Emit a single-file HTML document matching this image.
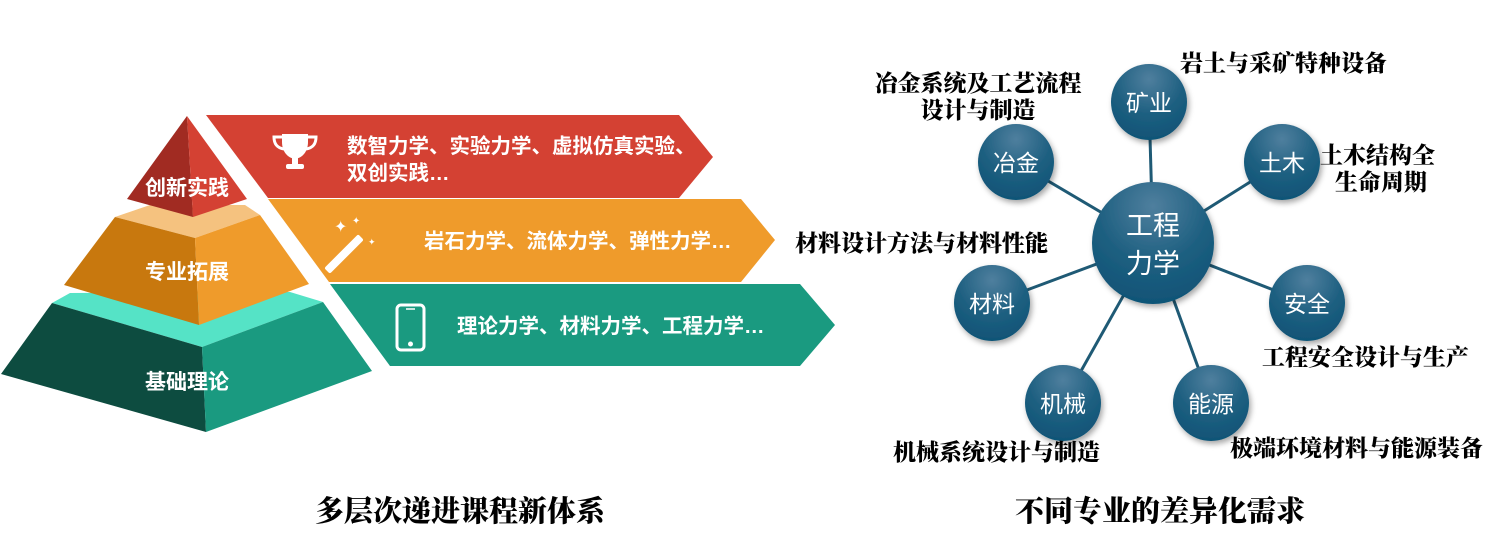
<!DOCTYPE html>
<html><head><meta charset="utf-8"><style>
html,body{margin:0;padding:0;background:#fff;width:1504px;height:547px;overflow:hidden}
svg{display:block}
.w{font-family:"Liberation Sans","Noto Sans CJK SC",sans-serif;font-weight:bold;fill:#fff}
.b{font-family:"Liberation Serif","Noto Serif CJK SC",serif;font-weight:900;fill:#000}
.c{font-family:"Liberation Sans","Noto Sans CJK SC",sans-serif;fill:#fff}
</style></head><body>
<svg width="1504" height="547" viewBox="0 0 1504 547" xmlns="http://www.w3.org/2000/svg">
<defs>
<radialGradient id="g" cx="50%" cy="20%" r="85%">
<stop offset="0" stop-color="#4f7f9e"/><stop offset="0.55" stop-color="#1d5f80"/><stop offset="1" stop-color="#0e5275"/>
</radialGradient>
<filter id="sh" x="-30%" y="-30%" width="160%" height="160%"><feDropShadow dx="2" dy="3" stdDeviation="3" flood-color="#000" flood-opacity="0.35"/></filter>
</defs>
<polygon points="206,115 679,115 713,157 679,198 268,198" fill="#d44133"/>
<polygon points="268,199 741,199 775,240 741,282 329,282" fill="#ef9b2b"/>
<polygon points="330,284 800,284 835,325 800,366 390,366" fill="#1a9a80"/>
<polygon points="52,303 70,293 290,292 323,302 202,347" fill="#55e3c6"/>
<polygon points="52,303 202,347 206,432 1,374" fill="#0d4c40"/>
<polygon points="202,347 323,302 372,371 206,432" fill="#1a9a80"/>
<polygon points="115,217 150,205 245,205 260,215 195,238" fill="#f5c27f"/>
<polygon points="115,217 195,238 199,325 64,285" fill="#c8780e"/>
<polygon points="195,238 260,215 309,284 199,325" fill="#ef9b2b"/>
<polygon points="187,116 127,199 193,217" fill="#a12b22"/>
<polygon points="187,116 193,217 247,199" fill="#d44133"/>
<text class="w" x="187" y="195" font-size="21" text-anchor="middle">创新实践</text>
<text class="w" x="187" y="279" font-size="21" text-anchor="middle">专业拓展</text>
<text class="w" x="187" y="389" font-size="21" text-anchor="middle">基础理论</text>
<g fill="#fff">
<path d="M282,134 h26 v8 c0,10 -6,16 -13,17 c-7,-1 -13,-7 -13,-17z"/>
<path d="M282,137 h-8 c0,8 4,11 10,12" fill="none" stroke="#fff" stroke-width="3"/>
<path d="M308,137 h8 c0,8 -4,11 -10,12" fill="none" stroke="#fff" stroke-width="3"/>
<rect x="292" y="158" width="6" height="6"/><rect x="286" y="164" width="18" height="5" rx="2"/>
</g>
<g fill="#fff"><rect x="340" y="230" width="8" height="48" rx="2" transform="rotate(45 344 254)"/>
<text x="334" y="232" font-size="16" fill="#fff">✦</text><text x="352" y="224" font-size="10" fill="#fff">✦</text><text x="368" y="245" font-size="9" fill="#fff">✦</text></g>
<rect x="397" y="305" width="27" height="45" rx="4" fill="none" stroke="#fff" stroke-width="3"/>
<circle cx="410.5" cy="344" r="2.5" fill="#fff"/><line x1="406" y1="309" x2="415" y2="309" stroke="#fff" stroke-width="1.5"/>
<text class="w" x="347" y="153" font-size="20.5">数智力学、实验力学、虚拟仿真实验、</text>
<text class="w" x="347" y="180" font-size="20.5">双创实践…</text>
<text class="w" x="424" y="248" font-size="20.5">岩石力学、流体力学、弹性力学…</text>
<text class="w" x="457" y="333" font-size="20.5">理论力学、材料力学、工程力学…</text>
<text class="b" x="460" y="521" font-size="29" text-anchor="middle">多层次递进课程新体系</text>
<g stroke="#1f5a75" stroke-width="3">
<line x1="1153" y1="243" x2="1149" y2="102"/><line x1="1153" y1="243" x2="1282" y2="162"/>
<line x1="1153" y1="243" x2="1016" y2="162"/><line x1="1153" y1="243" x2="992" y2="303"/>
<line x1="1153" y1="243" x2="1307" y2="303"/><line x1="1153" y1="243" x2="1063" y2="403"/>
<line x1="1153" y1="243" x2="1211" y2="403"/>
</g>
<g fill="url(#g)" filter="url(#sh)">
<circle cx="1153" cy="243" r="61"/><circle cx="1149" cy="102" r="38"/><circle cx="1282" cy="162" r="38"/>
<circle cx="1016" cy="162" r="38"/><circle cx="992" cy="303" r="38"/><circle cx="1307" cy="303" r="38"/>
<circle cx="1063" cy="403" r="38"/><circle cx="1211" cy="403" r="38"/>
</g>
<text class="c" x="1153" y="235" font-size="27" text-anchor="middle">工程</text>
<text class="c" x="1153" y="273" font-size="27" text-anchor="middle">力学</text>
<text class="c" x="1149" y="111" font-size="23" text-anchor="middle">矿业</text>
<text class="c" x="1282" y="171" font-size="23" text-anchor="middle">土木</text>
<text class="c" x="1016" y="171" font-size="23" text-anchor="middle">冶金</text>
<text class="c" x="992" y="312" font-size="23" text-anchor="middle">材料</text>
<text class="c" x="1307" y="312" font-size="23" text-anchor="middle">安全</text>
<text class="c" x="1063" y="412" font-size="23" text-anchor="middle">机械</text>
<text class="c" x="1211" y="412" font-size="23" text-anchor="middle">能源</text>
<text class="b" x="1180" y="71" font-size="23">岩土与采矿特种设备</text>
<text class="b" x="978" y="91" font-size="23" text-anchor="middle">冶金系统及工艺流程</text>
<text class="b" x="978" y="118" font-size="23" text-anchor="middle">设计与制造</text>
<text class="b" x="1320" y="163" font-size="23">土木结构全</text>
<text class="b" x="1335" y="190" font-size="23">生命周期</text>
<text class="b" x="795" y="251" font-size="23">材料设计方法与材料性能</text>
<text class="b" x="1262" y="365" font-size="23">工程安全设计与生产</text>
<text class="b" x="893" y="460" font-size="23">机械系统设计与制造</text>
<text class="b" x="1230" y="456" font-size="23">极端环境材料与能源装备</text>
<text class="b" x="1160" y="521" font-size="29" text-anchor="middle">不同专业的差异化需求</text>
</svg>
</body></html>
